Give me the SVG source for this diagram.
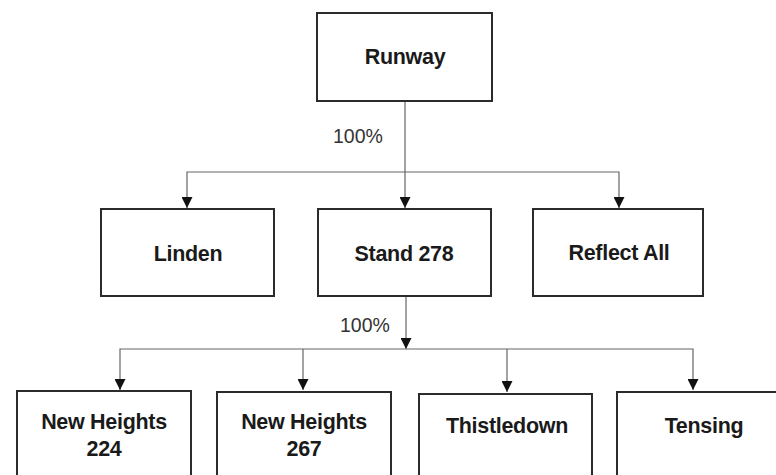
<svg xmlns="http://www.w3.org/2000/svg" width="776" height="475" viewBox="0 0 776 475">
<style>
.box{fill:#fff;stroke:#2b2b2b;stroke-width:2}
.lbl{font-family:"Liberation Sans",Arial,sans-serif;font-weight:bold;font-size:21.5px;fill:#1a1a1a;text-anchor:middle;letter-spacing:-0.3px}
.pct{font-family:"Liberation Sans",Arial,sans-serif;font-size:19.5px;fill:#333}
.con{fill:none;stroke:#666;stroke-width:1.2}
</style>
<defs>
<marker id="ah" viewBox="0 0 10 10" refX="10" refY="5" markerWidth="11" markerHeight="11" markerUnits="userSpaceOnUse" orient="auto-start-reverse">
<path d="M0,0 L10,5 L0,10 Z" fill="#111"/>
</marker>
</defs>
<rect width="776" height="475" fill="#fff"/>
<g id="connectors">
<path class="con" d="M405,101 V208" marker-end="url(#ah)"/>
<path class="con" d="M187,208 V172 H619 V208" marker-start="url(#ah)" marker-end="url(#ah)"/>
<path class="con" d="M406,297 V349" marker-end="url(#ah)"/>
<path class="con" d="M120,390 V349 H693 V390" marker-start="url(#ah)" marker-end="url(#ah)"/>
<path class="con" d="M303,349 V390" marker-end="url(#ah)"/>
<path class="con" d="M507,349 V392" marker-end="url(#ah)"/>
<text class="pct" x="333" y="143">100%</text>
<text class="pct" x="340" y="332">100%</text>
</g>
<g id="runway"><rect class="box" x="317" y="13" width="175" height="88"/><text class="lbl" x="405" y="64">Runway</text></g>
<g id="linden"><rect class="box" x="101" y="209" width="173" height="87"/><text class="lbl" x="188" y="261">Linden</text></g>
<g id="stand278"><rect class="box" x="318" y="209" width="173" height="87"/><text class="lbl" x="404" y="261">Stand 278</text></g>
<g id="reflectall"><rect class="box" x="533" y="209" width="170" height="87"/><text class="lbl" x="619" y="260">Reflect All</text></g>
<g id="newheights224"><rect class="box" x="17" y="391" width="174" height="100"/><text class="lbl" x="104" y="429">New Heights</text><text class="lbl" x="104" y="456">224</text></g>
<g id="newheights267"><rect class="box" x="217" y="392" width="174" height="100"/><text class="lbl" x="304" y="429">New Heights</text><text class="lbl" x="304" y="456">267</text></g>
<g id="thistledown"><rect class="box" x="419" y="394" width="173" height="100"/><text class="lbl" x="507" y="433">Thistledown</text></g>
<g id="tensing"><rect class="box" x="617" y="392" width="175" height="100"/><text class="lbl" x="704" y="433">Tensing</text></g>
</svg>
